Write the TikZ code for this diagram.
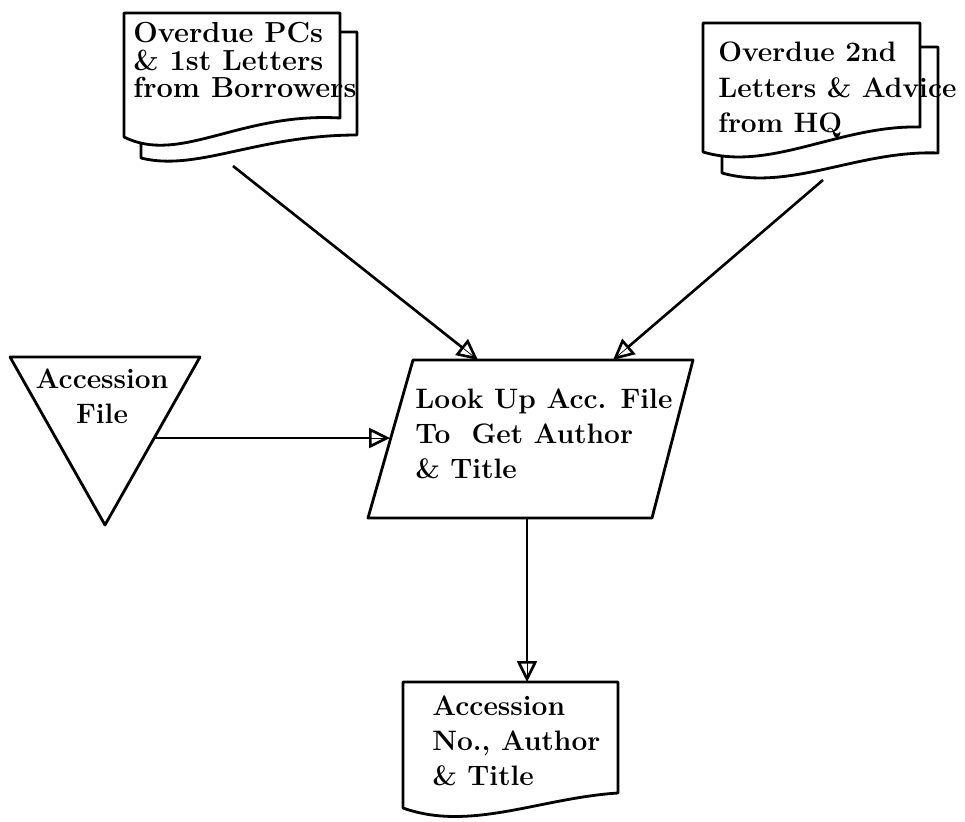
\documentclass[tikz,border=0pt]{standalone}
\usepackage{tikz}
\usetikzlibrary{arrows.meta}

\begin{document}
\begin{tikzpicture}[x=0.02cm, y=-0.02cm,
  outline/.style={draw, line width=1.6pt, fill=white, line join=round},
  flow/.style={line width=1.5pt, -{Triangle[open, length=0.42cm, width=0.4cm, line width=1.5pt]}, preaction={draw, -}},
  txt/.style={inner sep=0pt, align=left, anchor=west, font=\bfseries\fontsize{16}{20}\selectfont}]
\useasboundingbox (0,0) rectangle (965,822);

\draw[outline] (141,32) -- (357,32) -- (357,135) .. controls (257,135) and (197,172) .. (141,158) -- cycle;
\draw[outline] (124,13) -- (340,13) -- (340,118) .. controls (240,112) and (180,165) .. (124,137) -- cycle;

\draw[outline] (722,47) -- (938,47) -- (938,153) .. controls (858,150) and (790,192) .. (722,173) -- cycle;
\draw[outline] (703,23) -- (920,23) -- (920,127) .. controls (840,125) and (770,172) .. (703,152) -- cycle;

\draw[outline] (413,360) -- (693,360) -- (652,518) -- (368,518) -- cycle;
\draw[outline] (10,357) -- (200,357) -- (105,525) -- cycle;
\draw[outline] (403,682) -- (618,682) -- (618,793) .. controls (540,798) and (470,832) .. (403,808) -- cycle;

\node[txt, font=\bfseries\fontsize{16.5}{15.9}\selectfont] (ovpc) at (133,60) {Overdue PCs\\\& 1st Letters\\from Borrowers};
\node[txt] (ovhq) at (718,90) {Overdue 2nd\\Letters \& Advice\\from HQ};
\node[txt] (look) at (415,434) {Look Up Acc. File\\To~~Get Author\\\& Title};
\node[txt, align=center, anchor=center] (acc) at (102,396) {Accession\\File};
\node[txt] (accno) at (432,741) {Accession\\No., Author\\\& Title};

\coordinate (ovpc-out) at (233,166);
\coordinate (ovhq-out) at (823,180);
\coordinate (acc-out) at (153,438);
\coordinate (look-in1) at (478,360);
\coordinate (look-in2) at (613,360);
\coordinate (look-in3) at (390,438);
\coordinate (look-out) at (527,518);
\coordinate (accno-in) at (527,682);

\draw[flow] (ovpc-out) -- (look-in1);
\draw[flow] (ovhq-out) -- (look-in2);
\draw[flow] (acc-out) -- (look-in3);
\draw[flow] (look-out) -- (accno-in);

\end{tikzpicture}
\end{document}
